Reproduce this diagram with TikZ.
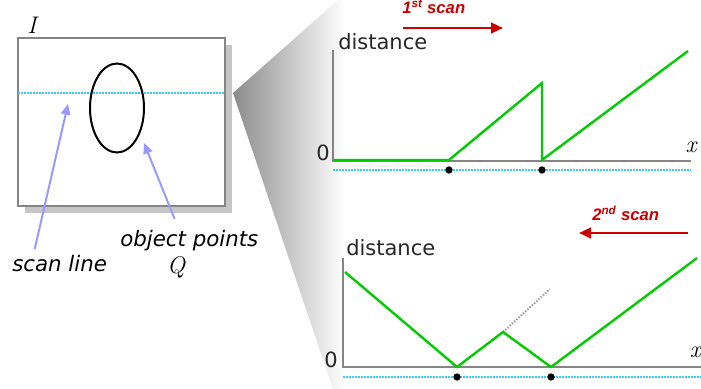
\documentclass[tikz,border=0pt]{standalone}
\usepackage{fontspec}
\newfontfamily\verd{DejaVu Sans}
\newfontfamily\arl{Liberation Sans}
\usetikzlibrary{arrows.meta, positioning}
\definecolor{scancyan}{HTML}{33CCFF}
\definecolor{curvegreen}{HTML}{00CC00}
\definecolor{pointerblue}{HTML}{9999FF}
\definecolor{scanred}{HTML}{CC0000}
\definecolor{axisgray}{HTML}{858585}

\begin{document}
\begin{tikzpicture}[
    x=0.75pt, y=-0.75pt,
    imgtext/.style={font=\verd\itshape\fontsize{16}{18}\selectfont, inner sep=0pt},
    mathtext/.style={font=\rmfamily\itshape\fontsize{18}{20}\selectfont, inner sep=0pt},
    axislabel/.style={font=\verd\fontsize{15.75}{18}\selectfont, text=black!85, inner sep=0pt},
    scanlbl/.style={font=\arl\bfseries\itshape\fontsize{12.5}{14}\selectfont, text=scanred, inner sep=0pt},
    pointer/.style={-{Triangle[length=8pt, width=7pt]}, pointerblue, line width=1.5pt},
    scanarrow/.style={-{Triangle[length=9pt, width=8pt]}, scanred, line width=1.8pt},
    axis/.style={axisgray, line width=1.5pt},
    curve/.style={curvegreen, line width=1.8pt},
    scanline/.style={scancyan, line width=1.5pt, dash pattern=on 1.2pt off 1.05pt},
    dot/.style={circle, fill=black, inner sep=0pt, minimum size=5.5pt},
]
\useasboundingbox (0,0) rectangle (701,389);

% zoom fan
\shade[left color=black!45, right color=white]
    (233,93) -- (338,0) -- (345,0) -- (345,389) -- (333,389) -- cycle;

% image I
\fill[gray!45] (25,45) rectangle (232,213);
\fill[white] (18,38) rectangle (225,206);
\draw[axis] (18,38) rectangle (225,206);
\node[mathtext, anchor=base] (imgname) at (32,33) {I};
\draw[scanline] (18,93) -- (225,93);
\draw[line width=1.5pt] (117,108) ellipse [x radius=27, y radius=44.5];
\coordinate (scanpt) at (68,104);
\coordinate (objpt) at (144,143);

\node[imgtext, anchor=base west] (scanname) at (12,271) {scan line};
\node[imgtext, anchor=base west] (objname) at (120,246) {object points};
\node[mathtext, anchor=base] (qname) at (176,273) {Q};
\draw[pointer] ([xshift=17pt, yshift=4pt]scanname.north west) -- (scanpt);
\draw[pointer] ([xshift=-11pt, yshift=8pt]objname.north) -- (objpt);

% 1st scan
\draw[axis] (333,50) -- (333,161) -- (691,161);
\node[axislabel, anchor=base west] (dist1) at (338,50) {distance};
\node[axislabel, anchor=base east] (zero1) at (330,160) {0};
\node[mathtext, anchor=base] (xaxis1) at (691,152) {x};
\draw[curve] (333,160) -- (449,160) -- (542,83) -- (542,160) -- (688,51);
\draw[scanline] (333,170) -- (691,170);
\node[dot] (edge1a) at (449,170) {};
\node[dot] (edge1b) at (542,170) {};
\node[scanlbl, anchor=base west] (scan1) at (402,13) {1\textsuperscript{st} scan};
\coordinate (scan1from) at (403,28);
\coordinate (scan1to) at (503,28);
\draw[scanarrow] (scan1from) -- (scan1to);

% 2nd scan
\draw[axis] (343,258) -- (343,367) -- (701,367);
\node[axislabel, anchor=base west] (dist2) at (346,255) {distance};
\node[axislabel, anchor=base east] (zero2) at (338,367) {0};
\node[mathtext, anchor=base east] (xaxis2) at (701,357) {x};
\draw[gray!70, line width=1.5pt, dash pattern=on 1.2pt off 1.05pt] (503,332) -- (550,289);
\draw[curve] (345,272) -- (457,367) -- (503,332) -- (551,367) -- (697,258);
\draw[scanline] (343,377) -- (701,377);
\node[dot] (edge2a) at (457,377) {};
\node[dot] (edge2b) at (551,377) {};
\node[scanlbl, anchor=base west] (scan2) at (592,220) {2\textsuperscript{nd} scan};
\coordinate (scan2from) at (688,233);
\coordinate (scan2to) at (579,233);
\draw[scanarrow] (scan2from) -- (scan2to);

\end{tikzpicture}
\end{document}
